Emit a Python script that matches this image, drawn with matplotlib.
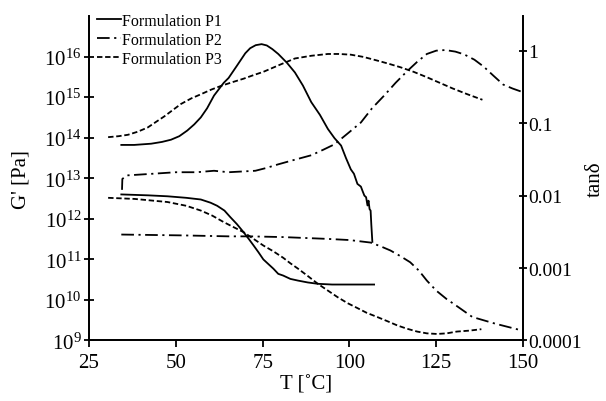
import numpy as np
import matplotlib
matplotlib.use("Agg")
import matplotlib.pyplot as plt

plt.rcParams["font.family"] = ["Liberation Serif", "DejaVu Serif"]
plt.rcParams["mathtext.fontset"] = "custom"
plt.rcParams["mathtext.rm"] = "Liberation Serif"
plt.rcParams["mathtext.it"] = "Liberation Serif:italic"

# ------------------------------------------------------------------ #
#  Data (T in degC)
# ------------------------------------------------------------------ #
# storage modulus G' [Pa]
g_p1_t = [34.3, 42, 47.6, 53, 57.2, 60, 61.9, 64, 65.7, 67.6, 69.5, 71, 72.4,
          73.8, 75.2, 76.7, 78.1, 79.5, 80.9, 83, 85.2, 88, 90.9, 95, 100, 107.1]
g_p1 = [4.0e12, 3.8e12, 3.6e12, 3.3e12, 3.0e12, 2.5e12, 2.1e12, 1.6e12,
        1.1e12, 7.4e11, 4.7e11, 3.2e11, 2.2e11, 1.5e11, 1.0e11, 7.6e10,
        5.9e10, 4.4e10, 4.0e10, 3.3e10, 3.0e10, 2.7e10, 2.5e10, 2.4e10,
        2.4e10, 2.4e10]

g_p2_t = [34.3, 52.4, 65.2, 71.4, 80.9, 93.8, 100, 106.1, 109, 111.8, 114.7,
          117.5, 120, 122.3, 125, 128, 130.9, 135.4, 142, 149.3]
g_p2 = [4.1e11, 3.9e11, 3.7e11, 3.7e11, 3.55e11, 3.2e11, 3.0e11, 2.6e11,
        2.1e11, 1.66e11, 1.2e11, 8.5e10, 5.3e10, 3.0e10, 1.7e10, 1.05e10,
        7.1e9, 3.8e9, 2.6e9, 1.8e9]

g_p3_t = [30.5, 38.1, 47.6, 53, 57.2, 60.5, 63.8, 66.7, 69.5, 72.4, 75.2, 78,
          80.9, 83, 85.2, 88, 90.9, 93.8, 96.6, 99.5, 102.3, 105, 108, 110.9,
          113.8, 116.6, 119.5, 122.3, 125.2, 128, 130.9, 134.5, 138]
g_p3 = [3.3e12, 3.1e12, 2.6e12, 2.1e12, 1.6e12, 1.2e12, 8.3e11, 6.2e11,
        4.7e11, 3.2e11, 2.2e11, 1.6e11, 1.1e11, 8.0e10, 5.9e10, 3.9e10,
        2.5e10, 1.7e10, 1.17e10, 8.3e9, 6.3e9, 4.8e9, 3.8e9, 3.0e9, 2.35e9,
        1.95e9, 1.66e9, 1.5e9, 1.45e9, 1.5e9, 1.66e9, 1.75e9, 1.9e9]

# loss factor tan(delta)
d_p1_t = [34.3, 38, 42.9, 46, 48.6, 51, 53.3, 55.3, 57.2, 59, 61, 63.8, 65.2,
          67.6, 70, 71.4, 73, 74.7, 76.2, 77.8, 79.5, 82, 84.3, 86.6, 89, 91.5,
          93.8, 95.7, 97.6, 99, 100.4, 101.3, 102.3, 103.3, 103.8, 104.3, 104.8,
          105.2, 105.5, 105.8, 106.1, 106.3, 106.6]
d_p1 = [0.050, 0.050, 0.052, 0.055, 0.059, 0.066, 0.079, 0.096, 0.12, 0.16,
        0.24, 0.36, 0.42, 0.62, 0.92, 1.08, 1.19, 1.23, 1.18, 1.05, 0.90,
        0.68, 0.50, 0.33, 0.195, 0.13, 0.083, 0.062, 0.049, 0.033, 0.023,
        0.020, 0.0145, 0.0133, 0.0115, 0.010, 0.0095, 0.0073, 0.0085, 0.0065,
        0.0062, 0.0040, 0.0023]

d_p2_t = [34.5, 34.6, 36, 43.3, 50, 56, 61, 65.2, 72.9, 76, 79.5, 84, 89,
          92.5, 95.7, 99.5, 103.3, 106.5, 110, 113.3, 116.6, 119.5, 122.3, 125,
          127.6, 130.5, 133, 136, 138.7, 141.5, 144.3, 147, 149.7]
d_p2 = [0.012, 0.017, 0.019, 0.020, 0.021, 0.021, 0.022, 0.021, 0.022, 0.024,
        0.027, 0.031, 0.036, 0.043, 0.051, 0.072, 0.102, 0.16, 0.24, 0.36,
        0.52, 0.70, 0.90, 1.0, 1.02, 0.97, 0.89, 0.75, 0.60, 0.45, 0.34,
        0.30, 0.27]

d_p3_t = [30.5, 33.5, 36.2, 39, 41.9, 44.3, 46.7, 49, 51.5, 54.5, 57.2, 60.2,
          63.3, 66.5, 69.5, 72.4, 75.2, 80, 84.3, 89, 93.8, 97, 100.4, 104,
          108, 111.3, 114.7, 118.5, 122.3, 126, 129.8, 134, 138.3]
d_p3 = [0.064, 0.066, 0.069, 0.076, 0.087, 0.104, 0.124, 0.15, 0.184, 0.22,
        0.25, 0.29, 0.33, 0.37, 0.41, 0.46, 0.51, 0.64, 0.78, 0.85, 0.90,
        0.90, 0.88, 0.82, 0.73, 0.66, 0.59, 0.51, 0.43, 0.36, 0.30, 0.25, 0.21]

labels = ["Formulation P1", "Formulation P2", "Formulation P3"]
styles = ["-", (0, (7, 2.5, 1.2, 2.5)), (0, (3, 1.5))]

fig = plt.figure(figsize=(6.06, 4.02), dpi=100)
ax = fig.add_axes([0.1469, 0.1505, 0.7162, 0.807])
ax2 = ax.twinx()

lw = 1.3
l1, = ax.plot(g_p1_t, g_p1, color="black", ls=styles[0], lw=lw)
l2, = ax.plot(g_p2_t, g_p2, color="black", ls=styles[1], lw=lw)
l3, = ax.plot(g_p3_t, g_p3, color="black", ls=styles[2], lw=lw)
ax2.plot(d_p1_t, d_p1, color="black", ls=styles[0], lw=lw)
ax2.plot(d_p2_t, d_p2, color="black", ls=styles[1], lw=lw)
ax2.plot(d_p3_t, d_p3, color="black", ls=styles[2], lw=lw)

ax.set_yscale("log")
ax2.set_yscale("log")
ax.set_xlim(25, 150)
ax.set_ylim(1e9, 1e17)
ax2.set_ylim(1e-4, 3.0)
ax.set_xticks([25, 50, 75, 100, 125, 150])
ax.set_yticks([10.0 ** k for k in range(9, 17)])
ax2.set_yticks([1e-4, 1e-3, 1e-2, 1e-1, 1])
ax2.set_yticklabels(["0.0001", "0.001", "0.01", "0.1", "1"])
ax.minorticks_off()
ax2.minorticks_off()

for a in (ax, ax2):
    a.spines["top"].set_visible(False)
    for s in a.spines.values():
        s.set_linewidth(1.3)
ax.tick_params(axis="y", which="major", direction="inout", length=7, width=1.3,
               labelsize=15, pad=2)
ax.tick_params(axis="x", which="major", direction="out", length=5, width=1.3,
               labelsize=15, pad=4)
ax2.tick_params(axis="y", which="major", direction="inout", length=6, width=1.3,
                labelsize=14, pad=1)

ax.set_xlabel("T [˚C]", fontsize=15, labelpad=2)
ax.set_ylabel("G' [Pa]", fontsize=15, labelpad=10)
ax2.set_ylabel("tanδ", fontsize=15)
ax2.yaxis.set_label_coords(1.145, 0.5)

ax.legend([l1, l2, l3], labels, loc="upper left", bbox_to_anchor=(-0.008, 1.045),
          frameon=False, fontsize=11.5, handlelength=1.5, handletextpad=0.1,
          labelspacing=0.2, borderpad=0.2)

fig.savefig("out.png", dpi=100)
plt.close(fig)
